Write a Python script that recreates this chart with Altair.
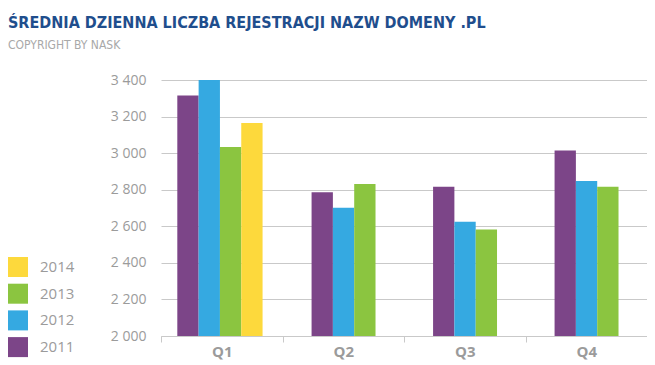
import altair as alt
import pandas as pd

quarters = ["Q1", "Q2", "Q3", "Q4"]
years = ["2011", "2012", "2013", "2014"]
v2011 = [3315, 2786, 2816, 3015]
v2012 = [3400, 2702, 2625, 2847]
v2013 = [3033, 2831, 2583, 2816]
v2014 = [3165, None, None, None]
colors = ["#7c4588", "#35a9e1", "#8bc540", "#fdd93c"]
y_ticks = [2000, 2200, 2400, 2600, 2800, 3000, 3200, 3400]

rows = []
for yr, vals in zip(years, [v2011, v2012, v2013, v2014]):
    for q, v in zip(quarters, vals):
        if v is not None:
            rows.append({"quarter": q, "year": yr, "value": v})
df = pd.DataFrame(rows)

label_color = "#9b9b9b"
grid_color = "#c9c9c9"
cond_font = "'DejaVu Sans Condensed', 'Open Sans', sans-serif"

x_enc = alt.X("quarter:N", sort=quarters,
              scale=alt.Scale(domain=quarters, paddingInner=0, paddingOuter=0),
              axis=alt.Axis(title=None, labelFontWeight="bold", labelColor=label_color,
                            labelFontSize=15, labelFont="Open Sans", labelPadding=2,
                            domainColor=grid_color, tickColor=grid_color, tickSize=6,
                            tickBand="extent", grid=False, labelAngle=0))
y_enc = alt.Y("value:Q",
              scale=alt.Scale(domain=[2000, 3400], zero=False, nice=False, clamp=True),
              axis=alt.Axis(title=None, values=y_ticks, grid=True, gridColor=grid_color,
                            domain=False, ticks=False, labelPadding=15, labelFontSize=14,
                            labelFont="Open Sans", labelColor=label_color,
                            labelExpr="replace(format(datum.value, ','), ',', ' ')"))
color_enc = alt.Color("year:N",
                      scale=alt.Scale(domain=years[::-1], range=colors[::-1]),
                      legend=alt.Legend(title=None, orient="none", legendX=-153, legendY=177,
                                        symbolType="square", symbolSize=400,
                                        symbolStrokeWidth=0, symbolOpacity=1,
                                        labelFontSize=15, labelFont="Open Sans",
                                        labelColor=label_color, rowPadding=6.7,
                                        labelOffset=12, padding=0))

base = alt.Chart(df)
q1 = base.transform_filter(alt.datum.quarter == "Q1").mark_bar().encode(
    x=x_enc, y=y_enc, color=color_enc,
    xOffset=alt.XOffset("year:N", scale=alt.Scale(domain=years, paddingInner=0,
                                                  paddingOuter=0.85, align=0.45)),
)
rest = base.transform_filter(alt.datum.quarter != "Q1").mark_bar().encode(
    x=x_enc, y=y_enc, color=color_enc,
    xOffset=alt.XOffset("year:N", scale=alt.Scale(domain=[" "] + years[:3] + ["  "],
                                                  paddingInner=0, paddingOuter=0.35, align=0.52)),
)

chart = alt.layer(q1, rest).resolve_scale(xOffset="independent").properties(
    width=486, height=256,
    autosize=alt.AutoSizeParams(type="none"),
    padding={"left": 153, "top": 72, "right": 0, "bottom": 28},
    title=alt.TitleParams(
        text="ŚREDNIA DZIENNA LICZBA REJESTRACJI NAZW DOMENY .PL",
        subtitle="COPYRIGHT BY NASK",
        anchor="start", frame="group", dx=-153, offset=22,
        font=cond_font, fontSize=16, fontWeight=600, color="#1f4e8d",
        subtitleFont=cond_font, subtitleFontSize=12, subtitleColor="#a8a8a8",
        subtitlePadding=9,
    ),
).configure_view(stroke=None)

chart.save("out.html", embed_options={"renderer": "svg", "actions": False})
